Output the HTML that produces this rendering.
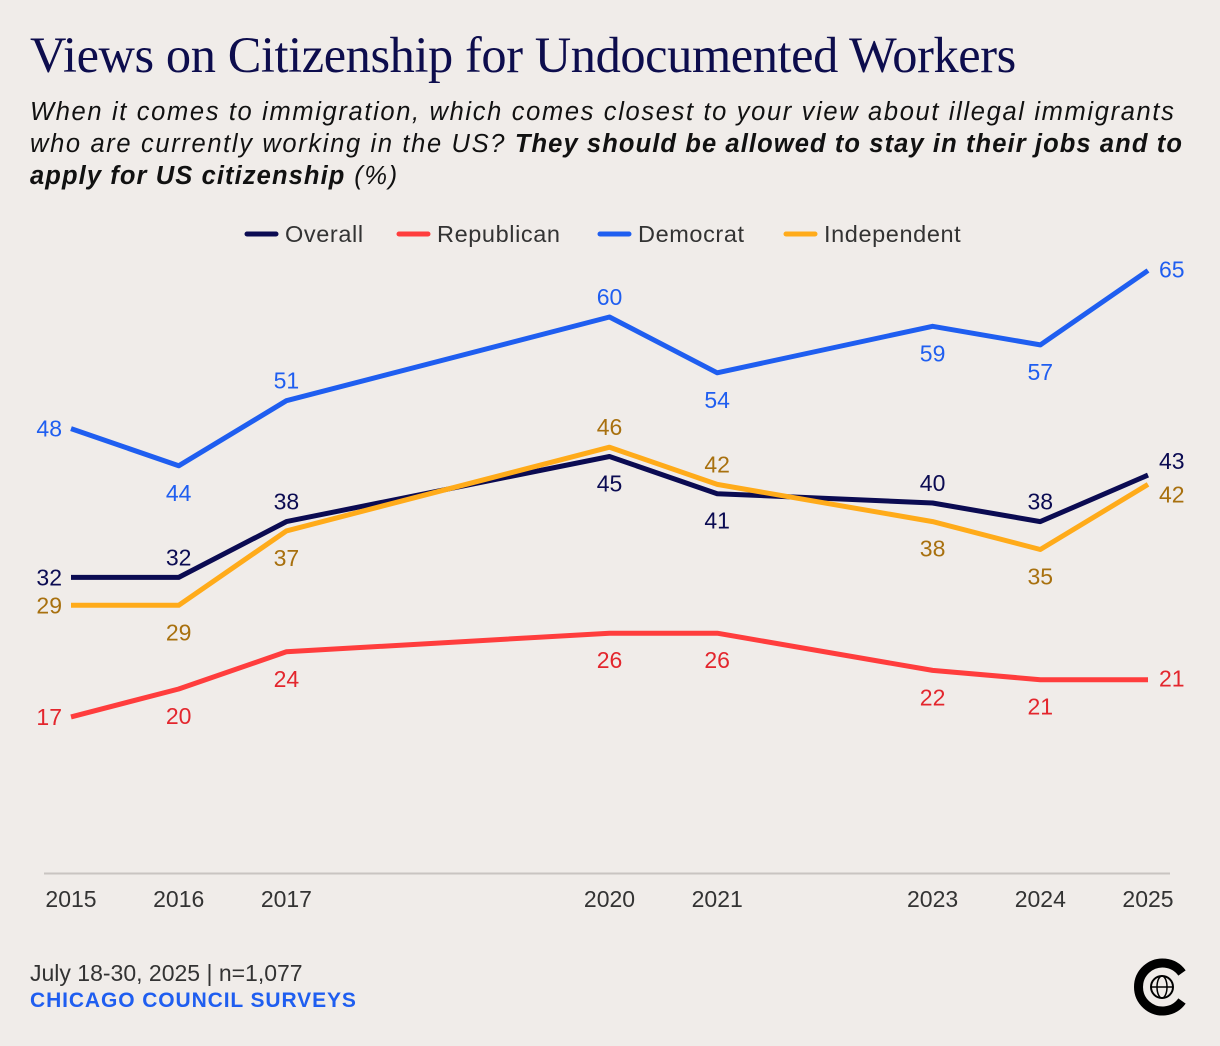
<!DOCTYPE html>
<html><head><meta charset="utf-8">
<style>
body{margin:0;background:#f0ece9;}
#wrap{position:relative;width:1220px;height:1046px;background:#f0ece9;font-family:"Liberation Sans",sans-serif;overflow:hidden}
h1{position:absolute;left:30px;top:26px;margin:0;font-family:"Liberation Serif",serif;font-weight:normal;font-size:50.4px;color:#0d0d4d;letter-spacing:-0.4px;white-space:nowrap}
.sub{position:absolute;left:30px;top:96px;width:1190px;font-style:italic;font-size:25.5px;line-height:32px;color:#111;letter-spacing:1.65px;white-space:nowrap}
.foot{position:absolute;left:30px;font-size:23px}
</style></head><body>
<div id="wrap">
<h1>Views on Citizenship for Undocumented Workers</h1>
<div class="sub">When it comes to immigration, which comes closest to your view about illegal immigrants<br>who are currently working in the US? <b style="letter-spacing:1.1px">They should be allowed to stay in their jobs and to</b><br><b style="letter-spacing:1.1px">apply for US citizenship</b> (%)</div>
<svg id="chart" width="1220" height="1046" style="position:absolute;left:0;top:0"></svg>
<div class="foot" style="top:960px;color:#333">July 18-30, 2025 | n=1,077</div>
<div class="foot" style="top:989px;color:#1f5ef0;font-weight:bold;font-size:21px;letter-spacing:0.9px">CHICAGO COUNCIL SURVEYS</div>
<svg width="64" height="64" style="position:absolute;left:1130px;top:955px">
<path d="M52 18 A24 24 0 1 0 52 46" fill="none" stroke="#000" stroke-width="9"/>
<circle cx="32" cy="32" r="11" fill="none" stroke="#000" stroke-width="2"/>
<ellipse cx="32" cy="32" rx="5" ry="11" fill="none" stroke="#000" stroke-width="1.5"/>
<line x1="21" y1="32" x2="43" y2="32" stroke="#000" stroke-width="1.5"/>
</svg>
</div>
<script>
const years=[2015,2016,2017,2020,2021,2023,2024,2025];
const overall=[32,32,38,45,41,40,38,43];
const republican=[17,20,24,26,26,22,21,21];
const democrat=[48,44,51,60,54,59,57,65];
const independent=[29,29,37,46,42,38,35,42];
const seriesNames=["Overall","Republican","Democrat","Independent"];
const overallPos=["L","A","A","B","B","A","A","RU"];
const republicanPos=["L","B","B","B","B","B","B","R"];
const democratPos=["L","B","A","A","B","B","B","R"];
const independentPos=["L","B","B","A","A","B","B","RD"];

const NS="http://www.w3.org/2000/svg";
const svg=document.getElementById('chart');
const x=y=>71+(y-2015)*107.7;
const yv=v=>875-v*9.3;
function mk(t,a){const e=document.createElementNS(NS,t);for(const k in a)e.setAttribute(k,a[k]);svg.appendChild(e);return e;}
const ax=mk('line',{x1:44,x2:1170,y1:873.5,y2:873.5,stroke:'#c9c4c1','stroke-width':2});


years.forEach(yr=>{const t=mk('text',{x:x(yr),y:907,'text-anchor':'middle','font-size':23,fill:'#333','font-family':'Liberation Sans'});t.textContent=yr;

});
const series=[
 {key:'republican',vals:republican,pos:republicanPos,c:'#ff3d3d',lc:'#e3262d'},
 {key:'overall',vals:overall,pos:overallPos,c:'#0b0b52',lc:'#0b0b52'},
 {key:'independent',vals:independent,pos:independentPos,c:'#ffab1a',lc:'#a8700e'},
 {key:'democrat',vals:democrat,pos:democratPos,c:'#1f5ef0',lc:'#1f5ef0'}];
series.forEach(s=>{
 const p=mk('polyline',{points:s.vals.map((v,i)=>x(years[i])+','+yv(v)).join(' '),fill:'none',stroke:s.c,'stroke-width':5,'stroke-linejoin':'round'});
 
 
 s.vals.forEach((v,i)=>{
  let px=x(years[i]),py=yv(v),a='middle';
  const q=s.pos[i];
  if(q==='A')py-=12;else if(q==='B')py+=35;
  else if(q==='L'){px-=9;py+=8;a='end';}
  else if(q==='R'){px+=11;py+=7;a='start';}
  else if(q==='RU'){px+=11;py-=6;a='start';}
  else if(q==='RD'){px+=11;py+=18;a='start';}
  const t=mk('text',{x:px,y:py,'text-anchor':a,'font-size':23,fill:s.lc,'font-family':'Liberation Sans'});
  t.textContent=v;
  
  
 });
});
const legend=[["Overall",'#0b0b52',247],["Republican",'#ff3d3d',399],["Democrat",'#1f5ef0',600],["Independent",'#ffab1a',786]];
legend.forEach(l=>{
 const r=mk('line',{x1:l[2],x2:l[2]+29,y1:234,y2:234,stroke:l[1],'stroke-width':5,'stroke-linecap':'round'});
 
 
 const t=mk('text',{x:l[2]+38,y:242,'font-size':23.5,fill:'#333','font-family':'Liberation Sans','letter-spacing':0.6});t.textContent=l[0];
 
 
});
</script>
</body></html>
